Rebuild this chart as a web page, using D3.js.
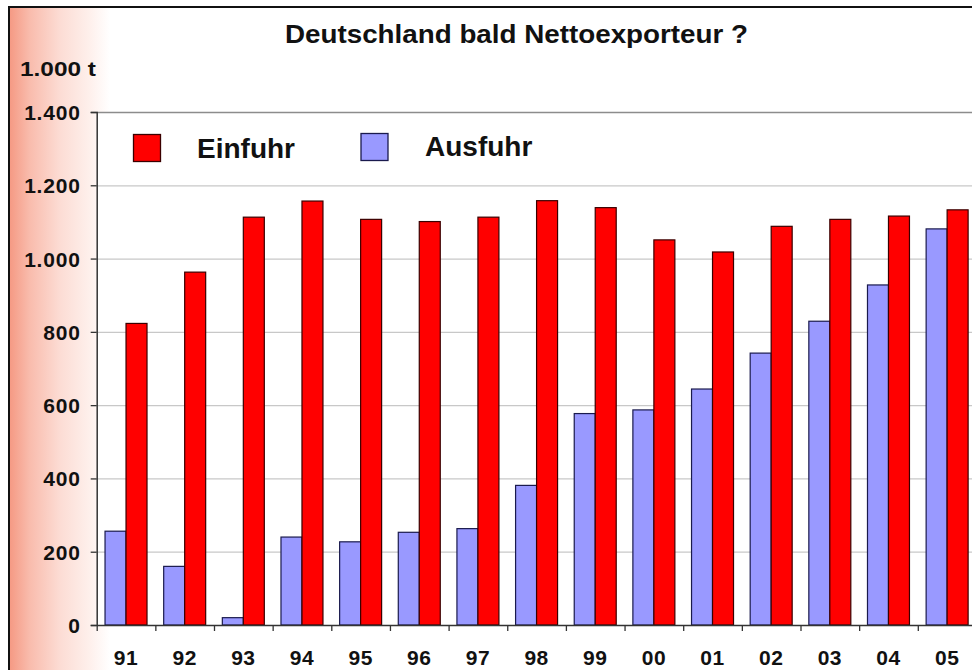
<!DOCTYPE html>
<html><head><meta charset="utf-8">
<script src="https://cdn.jsdelivr.net/npm/d3@7"></script>
<style>
html,body{margin:0;padding:0;background:#fff;}
svg{display:block;font-family:"Liberation Sans",Arial,sans-serif;}
</style></head>
<body>
<svg id="chart" width="972" height="670"></svg>
<script>
const years = ["91","92","93","94","95","96","97","98","99","00","01","02","03","04","05"];
const einfuhr = [823, 963, 1113, 1157, 1107, 1101, 1113, 1158, 1139, 1051, 1018, 1088, 1107, 1116, 1133];
const ausfuhr = [256, 160, 20, 240, 227, 253, 263, 381, 577, 587, 644, 742, 829, 928, 1081];
const seriesNames = ["Ausfuhr", "Einfuhr"];
const seriesColors = ["#9999ff", "#ff0000"];
const seriesStroke = ["#1a1a4d", "#3a0000"];
const yTicks = [0, 200, 400, 600, 800, 1000, 1200, 1400];
const title = "Deutschland bald Nettoexporteur ?";
const unitLabel = "1.000 t";

const svg = d3.select("#chart");
const W = 972, H = 670;
const x0 = 96.7, bw = 58.65;
const yBottom = 625, yTop = 112;

// background gradient
const defs = svg.append("defs");
const grad = defs.append("linearGradient").attr("id","bg").attr("x1","0").attr("x2","1").attr("y1","0").attr("y2","0");
grad.append("stop").attr("offset","0").attr("stop-color","#f59a84");
grad.append("stop").attr("offset","0.2").attr("stop-color","#f9bcad");
grad.append("stop").attr("offset","0.5").attr("stop-color","#fcdcd4");
grad.append("stop").attr("offset","0.8").attr("stop-color","#fef0ec");
grad.append("stop").attr("offset","1").attr("stop-color","#ffffff");
svg.append("rect").attr("x",0).attr("y",0).attr("width",W).attr("height",H).attr("fill","#fff");
svg.append("rect").attr("x",10).attr("y",8).attr("width",100).attr("height",H-8).attr("fill","url(#bg)");
// frame
svg.append("line").attr("x1",9).attr("x2",W).attr("y1",7).attr("y2",7).attr("stroke","#111").attr("stroke-width",2);
svg.append("line").attr("x1",9).attr("x2",9).attr("y1",6).attr("y2",H).attr("stroke","#111").attr("stroke-width",2);
// plot area
svg.append("rect").attr("x",x0).attr("y",yTop).attr("width",W-x0).attr("height",yBottom-yTop).attr("fill","#fff");

const y = d3.scaleLinear().domain([0,1400]).range([yBottom, yTop]);
const x = d3.scaleBand().domain(years).range([x0, x0 + bw*years.length]).padding(0);
const p = 0.397;
const x1 = d3.scaleBand().domain(seriesNames).range([0, x.bandwidth()]).paddingInner(0).paddingOuter(p);
const de = d3.formatLocale({decimal:",", thousands:".", grouping:[3], currency:["","€"]});
const fmt = de.format(",d");

// gridlines
svg.append("g").selectAll("line").data(yTicks.filter(d=>d>0)).join("line")
  .attr("x1", x0).attr("x2", W)
  .attr("y1", d=>y(d)+0.5).attr("y2", d=>y(d)+0.5)
  .attr("stroke", d=> d===1400 ? "#8c8c8c" : "#c8c8c8").attr("stroke-width", d=> d===1400 ? 1.5 : 1.3);

// bars
const data = years.map((yr,i)=>({year:yr, values:[ausfuhr[i], einfuhr[i]]}));
const groups = svg.append("g").selectAll("g").data(data).join("g")
  .attr("transform", d=>`translate(${x(d.year)},0)`);
groups.selectAll("rect").data(d=>d.values.map((v,k)=>({k, v}))).join("rect")
  .attr("x", d=>x1(seriesNames[d.k]))
  .attr("width", x1.bandwidth())
  .attr("y", d=>y(d.v))
  .attr("height", d=>yBottom - y(d.v))
  .attr("fill", d=>seriesColors[d.k])
  .attr("stroke", d=>seriesStroke[d.k]).attr("stroke-width",1.2);

// y axis
const yAxis = svg.append("g").attr("transform",`translate(${x0},0)`)
  .call(d3.axisLeft(y).tickValues(yTicks).tickFormat(fmt).tickSize(6).tickPadding(10));
yAxis.select(".domain").attr("stroke","#333").attr("stroke-width",1.5);
yAxis.selectAll(".tick line").attr("stroke","#333").attr("stroke-width",1.3);
yAxis.selectAll(".tick text").attr("font-size",21).attr("font-weight","bold").attr("fill","#111")
  .attr("font-family","Liberation Sans, Arial, sans-serif").attr("letter-spacing","0.8px").attr("dy","0.36em");

// x axis boundary ticks
const xb = d3.scaleLinear().domain([0, years.length]).range([x0, x0 + bw*years.length]);
const xAxisB = svg.append("g").attr("transform",`translate(0,${yBottom})`)
  .call(d3.axisBottom(xb).ticks(years.length).tickFormat("").tickSize(6).tickSizeOuter(0));
xAxisB.select(".domain").attr("stroke","#333").attr("stroke-width",1.5);
xAxisB.selectAll(".tick line").attr("stroke","#333").attr("stroke-width",1.3);
// x axis labels
const xAxis = svg.append("g").attr("transform",`translate(0,${yBottom})`)
  .call(d3.axisBottom(x).tickSize(0).tickPadding(25));
xAxis.select(".domain").remove();
xAxis.selectAll(".tick text").attr("font-size",21).attr("font-weight","bold").attr("fill","#111")
  .attr("font-family","Liberation Sans, Arial, sans-serif").attr("letter-spacing","0.5px");

// title
svg.append("text").attr("x",516.5).attr("y",42.5).attr("text-anchor","middle")
  .attr("font-size",25).attr("font-weight","bold").attr("fill","#111")
  .attr("textLength",463).attr("lengthAdjust","spacingAndGlyphs").text(title);
// unit
svg.append("text").attr("x",20).attr("y",76).attr("font-size",20).attr("font-weight","bold").attr("fill","#111")
  .attr("textLength",76).attr("lengthAdjust","spacingAndGlyphs").text(unitLabel);

// legend
const legend = [
  {name:"Einfuhr", color:"#ff0000", stroke:"#3a0000", sx:133.5, sy:134.5, tx:197, ty:158},
  {name:"Ausfuhr", color:"#9999ff", stroke:"#1a1a4d", sx:361, sy:133.5, tx:425, ty:156}
];
const lg = svg.append("g").selectAll("g").data(legend).join("g");
lg.append("rect").attr("x",d=>d.sx).attr("y",d=>d.sy).attr("width",27).attr("height",27)
  .attr("fill",d=>d.color).attr("stroke",d=>d.stroke).attr("stroke-width",1.3);
lg.append("text").attr("x",d=>d.tx).attr("y",d=>d.ty).attr("font-size",28).attr("font-weight","bold")
  .attr("fill","#111").text(d=>d.name);
</script>
</body></html>
